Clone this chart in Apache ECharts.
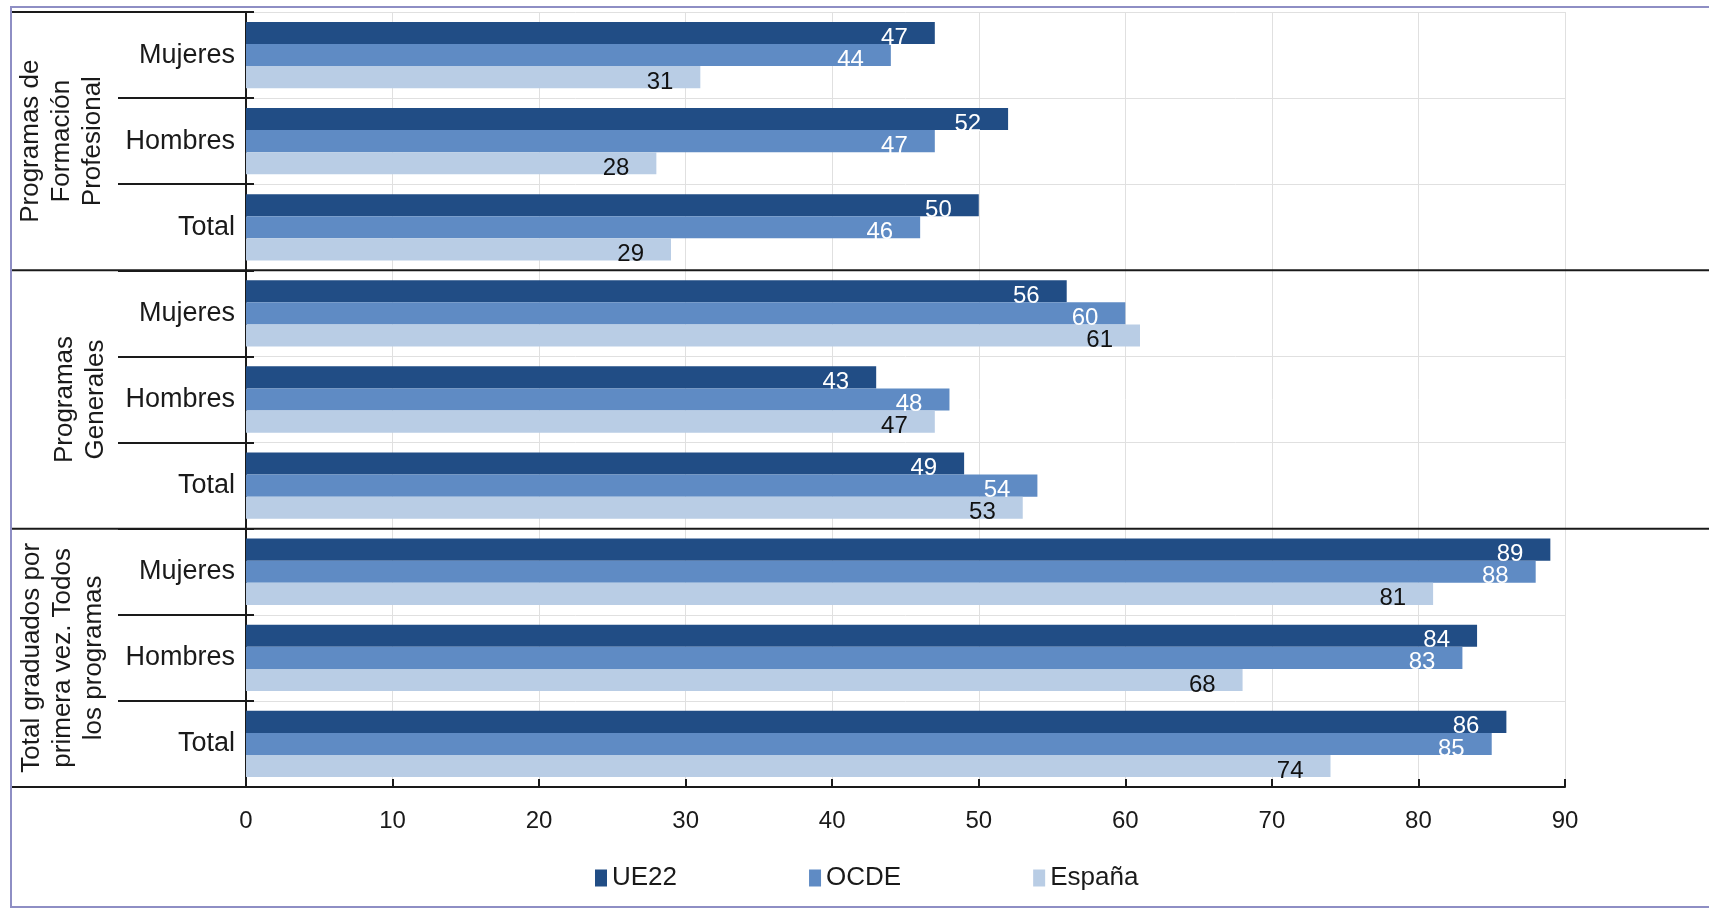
<!DOCTYPE html>
<html>
<head>
<meta charset="utf-8">
<script src="https://cdn.jsdelivr.net/npm/echarts@6/dist/echarts.min.js"></script>
<style>
html,body{margin:0;padding:0;background:#fff;}
#c{width:1709px;height:910px;}
</style>
</head>
<body>
<div id="c"></div>
<script>
// ---- data ----
const categories = ['Mujeres', 'Hombres', 'Total', 'Mujeres', 'Hombres', 'Total', 'Mujeres', 'Hombres', 'Total'];
const groupLabels = ['Programas de\nFormación\nProfesional', 'Programas\nGenerales', 'Total graduados por\nprimera vez. Todos\nlos programas'];
const seriesNames = ['UE22', 'OCDE', 'España'];
const ue22 = [47, 52, 50, 56, 43, 49, 89, 84, 86];
const ocde = [44, 47, 46, 60, 48, 54, 88, 83, 85];
const espana = [31, 28, 29, 61, 47, 53, 81, 68, 74];
const xMin = 0, xMax = 90, xInterval = 10;

// ---- style / layout ----
const FONT = '"Liberation Sans", Arial, sans-serif';
const colors = ['#214d85', '#5f8bc4', '#b9cde5'];
const labelColors = ['#ffffff', '#ffffff', '#111111'];
const W = 1709, H = 910;
const G = { left: 246, right: 144, top: 12, bottom: 123 };
const groupLabelX = [62, 80, 63];

const chart = echarts.init(document.getElementById('c'), null, { renderer: 'canvas', width: W, height: H });

const dataSets = [ue22, ocde, espana];
const series = dataSets.map((d, i) => ({
  name: seriesNames[i],
  type: 'bar',
  data: d,
  barGap: '0%',
  barCategoryGap: '23%',
  itemStyle: { color: colors[i] },
  label: {
    show: true,
    position: 'insideRight',
    distance: 27,
    offset: [0, 5],
    color: labelColors[i],
    fontFamily: FONT,
    fontSize: 24
  },
  emphasis: { disabled: true },
  animation: false
}));

const gridWidth = W - G.left - G.right;

const option = {
  animation: false,
  backgroundColor: '#ffffff',
  grid: { left: G.left, right: G.right, top: G.top, bottom: G.bottom, containLabel: false },
  legend: {
    data: seriesNames,
    left: 590,
    top: 860,
    itemWidth: 12,
    itemHeight: 17,
    itemGap: 132,
    icon: 'rect',
    textStyle: { fontFamily: FONT, fontSize: 26, color: '#1a1a1a' }
  },
  xAxis: {
    type: 'value',
    min: xMin, max: xMax, interval: xInterval,
    axisLine: { show: true, lineStyle: { color: '#1a1a1a', width: 2 } },
    axisTick: { show: true, inside: true, length: 8, lineStyle: { color: '#1a1a1a', width: 2 } },
    axisLabel: { fontFamily: FONT, fontSize: 24, color: '#1a1a1a', margin: 22 },
    splitLine: { show: true, lineStyle: { color: '#e0e0e0', width: 1 } }
  },
  yAxis: [
    {
      type: 'category',
      data: categories,
      inverse: true,
      position: 'left',
      axisLine: { show: true, lineStyle: { color: '#1a1a1a', width: 2 } },
      axisTick: { show: true, length: 128, lineStyle: { color: '#1a1a1a', width: 2 } },
      axisLabel: { fontFamily: FONT, fontSize: 27, color: '#1a1a1a', margin: 11 },
      splitLine: { show: true, lineStyle: { color: '#e0e0e0', width: 1 } }
    },
    {
      type: 'category',
      data: categories,
      inverse: true,
      position: 'right',
      offset: -gridWidth,
      axisLine: { show: false },
      axisTick: { show: true, length: 8, lineStyle: { color: '#1a1a1a', width: 2 } },
      axisLabel: { show: false },
      splitLine: { show: false }
    }
  ],
  series: series
};

chart.setOption(option);

// structural decorations derived from the category axis
const c0 = chart.convertToPixel({ yAxisIndex: 0 }, 0);
const c1 = chart.convertToPixel({ yAxisIndex: 0 }, 1);
const band = c1 - c0;
const n = categories.length;
const topY = c0 - band / 2;
const botY = chart.convertToPixel({ yAxisIndex: 0 }, n - 1) + band / 2;
const axisX = chart.convertToPixel({ xAxisIndex: 0 }, xMin);
const lineStyle = { stroke: '#1a1a1a', lineWidth: 2 };
const gfx = [];
// outer frame
gfx.push({ type: 'rect', shape: { x: 11, y: 7, width: W, height: 900 }, style: { fill: null, stroke: '#8e8ec4', lineWidth: 2 }, z: 100 });
// top line of first group
gfx.push({ type: 'line', shape: { x1: 12, y1: topY, x2: axisX + 8, y2: topY }, style: lineStyle, z: 100 });
// bottom line of last group (left part)
gfx.push({ type: 'line', shape: { x1: 12, y1: botY, x2: axisX, y2: botY }, style: lineStyle, z: 100 });
// group separators
for (let g = 1; g < groupLabels.length; g++) {
  const idx = g * 3;
  const y = (chart.convertToPixel({ yAxisIndex: 0 }, idx - 1) + chart.convertToPixel({ yAxisIndex: 0 }, idx)) / 2;
  gfx.push({ type: 'line', shape: { x1: 12, y1: y, x2: W, y2: y }, style: lineStyle, z: 100 });
}
// group labels (rotated)
groupLabels.forEach((t, g) => {
  const yc = (chart.convertToPixel({ yAxisIndex: 0 }, g * 3) + chart.convertToPixel({ yAxisIndex: 0 }, g * 3 + 2)) / 2;
  gfx.push({
    type: 'text', x: groupLabelX[g], y: yc, rotation: Math.PI / 2, z: 100,
    style: { text: t, fontFamily: FONT, fontSize: 26, fill: '#1a1a1a', align: 'center', verticalAlign: 'middle', lineHeight: 31 }
  });
});
chart.setOption({ graphic: gfx });
</script>
</body>
</html>
